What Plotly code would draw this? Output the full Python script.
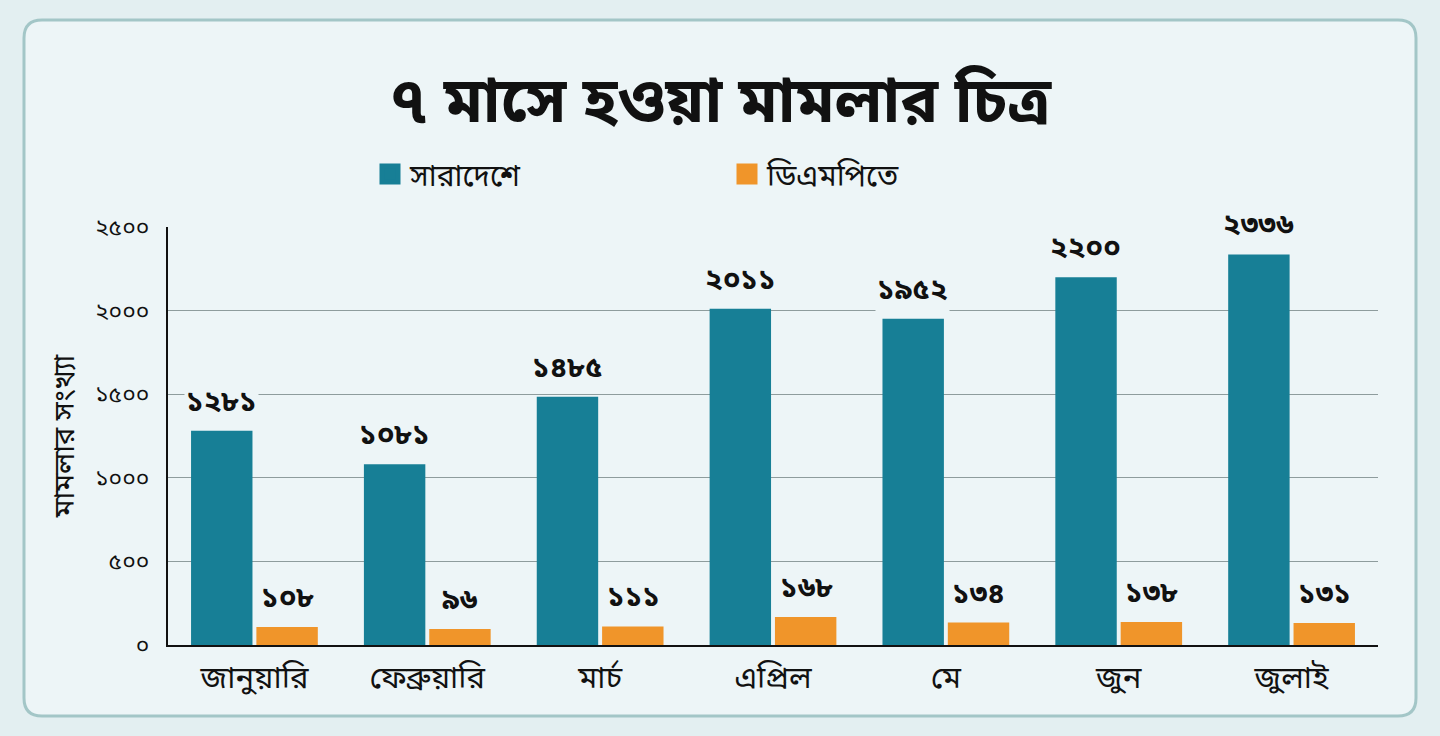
import plotly.graph_objects as go

months = ["জানুয়ারি", "ফেব্রুয়ারি", "মার্চ", "এপ্রিল", "মে", "জুন", "জুলাই"]
nationwide = [1281, 1081, 1485, 2011, 1952, 2200, 2336]
dmp = [108, 96, 111, 168, 134, 138, 131]
series_names = ["সারাদেশে", "ডিএমপিতে"]
y_ticks = [0, 500, 1000, 1500, 2000, 2500]
title_text = "৭ মাসে হওয়া মামলার চিত্র"
y_title = "মামলার সংখ্যা"

BN = str.maketrans("0123456789", "০১২৩৪৫৬৭৮৯")
def bn(v):
    return str(v).translate(BN)

TEAL = "#177f96"
ORANGE = "#f0952a"
FONT = "Noto Sans Bengali, Noto Sans, sans-serif"
W, H = 1440, 736
ML, MR, MT, MB = 168, 62, 227, 91
PW, PH = W - ML - MR, H - MT - MB

fig = go.Figure()
fig.add_trace(go.Bar(x=months, y=nationwide, name=series_names[0],
                     marker=dict(color=TEAL, line=dict(width=0)), showlegend=False))
fig.add_trace(go.Bar(x=months, y=dmp, name=series_names[1],
                     marker=dict(color=ORANGE, line=dict(width=0)), showlegend=False))
# legend entries
for nm, col in zip(series_names, [TEAL, ORANGE]):
    fig.add_trace(go.Scatter(x=[None], y=[None], mode="markers", name=nm,
                             marker=dict(symbol="square", size=16, color=col,
                                         line=dict(color=col, width=5))))

BG = "#edf5f7"
annotations = []
for vals, shift in [(nationwide, -33), (dmp, 33)]:
    for m, v in zip(months, vals):
        annotations.append(dict(x=m, y=v, xref="x", yref="y", text=f"<b>{bn(v)}</b>",
                                showarrow=False, xshift=shift, yshift=6,
                                yanchor="bottom", bgcolor=BG, borderpad=1,
                                font=dict(family=FONT, size=29, color="#111111")))

def px2paper(px, py):
    return (px - ML) / PW, (H - MB - py) / PH

# rounded card
x0, y0, x1, y1, r = 24, 20, 1416, 716, 18
def P(px, py):
    a, b = px2paper(px, py)
    return f"{a:.5f},{b:.5f}"
path = (f"M{P(x0 + r, y0)} L{P(x1 - r, y0)} Q{P(x1, y0)} {P(x1, y0 + r)} "
        f"L{P(x1, y1 - r)} Q{P(x1, y1)} {P(x1 - r, y1)} L{P(x0 + r, y1)} "
        f"Q{P(x0, y1)} {P(x0, y1 - r)} L{P(x0, y0 + r)} Q{P(x0, y0)} {P(x0 + r, y0)} Z")

fig.update_layout(
    width=W, height=H,
    margin=dict(l=ML, r=MR, t=MT, b=MB),
    paper_bgcolor="#e3eff1",
    plot_bgcolor="rgba(0,0,0,0)",
    barmode="group", bargap=0.244, bargroupgap=0.06,
    font=dict(family=FONT, color="#111111"),
    shapes=[dict(type="path", path=path, xref="paper", yref="paper",
                 fillcolor=BG, line=dict(color="#a3c6c7", width=3), layer="below")],
    annotations=annotations,
    title=dict(text=f"<b>{title_text}</b>", x=0.5, xref="container", xanchor="center",
               y=1 - 100 / H, yref="container", yanchor="middle",
               font=dict(family=FONT, size=63, color="#111111")),
    legend=dict(orientation="h", xref="container", yref="container",
                x=370 / W, y=1 - 174 / H, xanchor="left", yanchor="middle",
                font=dict(family=FONT, size=30, color="#111111"),
                entrywidth=312, entrywidthmode="pixels",
                bgcolor="rgba(0,0,0,0)"),
    xaxis=dict(showline=True, linecolor="#111111", linewidth=2, ticks="",
               tickfont=dict(family=FONT, size=31, color="#111111"),
               ticklabelstandoff=4, showgrid=False),
    yaxis=dict(range=[0, 2500], tickvals=y_ticks, ticktext=[bn(t) for t in y_ticks],
               showline=True, linecolor="#111111", linewidth=2,
               showgrid=True, gridcolor="#8e9c9d", gridwidth=1, zeroline=False,
               ticks="", ticklabelstandoff=12,
               tickfont=dict(family=FONT, size=23, color="#111111"),
               title=dict(text=y_title, standoff=12,
                          font=dict(family=FONT, size=29, color="#111111"))),
)

fig.write_html("out.html", config={"displayModeBar": False},
               post_script="document.body.style.margin='0';document.body.style.padding='0';")
